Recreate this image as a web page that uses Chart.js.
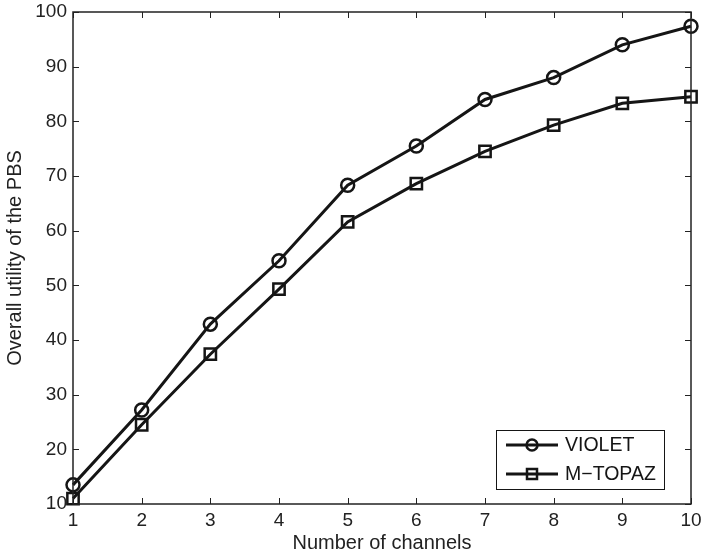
<!DOCTYPE html>
<html>
<head>
<meta charset="utf-8">
<script src="https://cdn.jsdelivr.net/npm/chart.js@4/dist/chart.umd.min.js"></script>
<style>
  html, body { margin: 0; padding: 0; background: #fff; }
  #wrap { width: 703px; height: 559px; }
</style>
</head>
<body>
<div id="wrap"><canvas id="utilityChart" width="703" height="559"></canvas></div>
<script>
// values
const channels = [1, 2, 3, 4, 5, 6, 7, 8, 9, 10];
const violet = [13.5, 27.2, 42.9, 54.5, 68.3, 75.5, 84.0, 88.0, 94.0, 97.4];
const mTopaz = [11.0, 24.5, 37.4, 49.3, 61.6, 68.6, 74.5, 79.3, 83.3, 84.5];
const seriesNames = ['VIOLET', 'M\u2212TOPAZ'];

const ink = '#151515';
const fontFamily = '"Liberation Sans", Arial, sans-serif';

// box round the axes plus inward ticks on all four sides (matlab look)
const boxTicks = {
    id: 'boxTicks',
    afterDraw(chart) {
        const { ctx, chartArea: a, scales } = chart;
        ctx.save();
        ctx.strokeStyle = '#222';
        ctx.lineWidth = 1;
        scales.x.ticks.forEach(t => {
            const px = Math.round(scales.x.getPixelForValue(t.value)) + 0.5;
            ctx.beginPath();
            ctx.moveTo(px, a.bottom); ctx.lineTo(px, a.bottom - 6);
            ctx.moveTo(px, a.top); ctx.lineTo(px, a.top + 6);
            ctx.stroke();
        });
        scales.y.ticks.forEach(t => {
            const py = Math.round(scales.y.getPixelForValue(t.value)) + 0.5;
            ctx.beginPath();
            ctx.moveTo(a.left, py); ctx.lineTo(a.left + 6, py);
            ctx.moveTo(a.right, py); ctx.lineTo(a.right - 6, py);
            ctx.stroke();
        });
        ctx.lineWidth = 1.5;
        ctx.strokeRect(a.left, a.top, a.right - a.left, a.bottom - a.top);
        ctx.restore();
    }
};

// legend drawn inside the lower right corner
const innerLegend = {
    id: 'innerLegend',
    afterDraw(chart) {
        const { ctx, chartArea: a } = chart;
        const w = 168, h = 59;
        const x = a.right - 27 - w, y = a.bottom - 15 - h;
        ctx.save();
        ctx.fillStyle = '#fff';
        ctx.fillRect(x, y, w, h);
        ctx.strokeStyle = ink;
        ctx.lineWidth = 1;
        ctx.strokeRect(x + 0.5, y + 0.5, w, h);
        chart.data.datasets.forEach((ds, i) => {
            const cy = y + 15 + i * 29;
            ctx.strokeStyle = ink;
            ctx.lineWidth = 3;
            ctx.beginPath();
            ctx.moveTo(x + 10, cy); ctx.lineTo(x + 62, cy);
            ctx.stroke();
            ctx.lineWidth = 2.5;
            ctx.beginPath();
            if (ds.pointStyle === 'circle') {
                ctx.arc(x + 36, cy, 5.5, 0, Math.PI * 2);
            } else {
                ctx.rect(x + 31, cy - 5, 10, 10);
            }
            ctx.stroke();
            ctx.fillStyle = ink;
            ctx.font = '19.5px ' + fontFamily;
            ctx.textBaseline = 'middle';
            ctx.fillText(ds.label, x + 69, cy + 1);
        });
        ctx.restore();
    }
};

const ctx = document.getElementById('utilityChart').getContext('2d');
const utilityChart = new Chart(ctx, {
    type: 'line',
    data: {
        datasets: [
            {
                label: seriesNames[0],
                data: channels.map((c, i) => ({ x: c, y: violet[i] })),
                borderColor: ink,
                borderWidth: 3,
                pointStyle: 'circle',
                pointRadius: 6.5,
                pointBorderWidth: 2.5,
                pointBackgroundColor: 'rgba(0,0,0,0)',
                pointBorderColor: ink
            },
            {
                label: seriesNames[1],
                data: channels.map((c, i) => ({ x: c, y: mTopaz[i] })),
                borderColor: ink,
                borderWidth: 3,
                pointStyle: 'rect',
                pointRadius: 8,
                pointBorderWidth: 2.5,
                pointBackgroundColor: 'rgba(0,0,0,0)',
                pointBorderColor: ink
            }
        ]
    },
    options: {
        responsive: false,
        animation: false,
        clip: false,
        layout: { padding: { top: 12, right: 12, left: 0, bottom: 0 } },
        plugins: {
            legend: { display: false },
            tooltip: { enabled: false }
        },
        scales: {
            x: {
                type: 'linear',
                min: 1,
                max: 10,
                grid: { display: false, drawTicks: false },
                border: { display: false },
                ticks: {
                    stepSize: 1,
                    color: '#222',
                    padding: 5,
                    font: { family: fontFamily, size: 19 }
                },
                title: {
                    display: true,
                    text: 'Number of channels',
                    color: '#222',
                    padding: { top: 0, bottom: 4 },
                    font: { family: fontFamily, size: 20 }
                },
                afterFit(scale) {
                    scale.height = 55;
                    scale.paddingLeft = 0;
                    scale.paddingRight = 0;
                }
            },
            y: {
                min: 10,
                max: 100,
                grid: { display: false, drawTicks: false },
                border: { display: false },
                ticks: {
                    stepSize: 10,
                    color: '#222',
                    padding: 6,
                    font: { family: fontFamily, size: 19 }
                },
                title: {
                    display: true,
                    text: 'Overall utility of the PBS',
                    color: '#222',
                    padding: { top: 3, bottom: 0 },
                    font: { family: fontFamily, size: 20 }
                },
                afterFit(scale) {
                    scale.width = 73;
                    scale.paddingTop = 0;
                    scale.paddingBottom = 0;
                }
            }
        }
    },
    plugins: [boxTicks, innerLegend]
});
</script>
</body>
</html>
